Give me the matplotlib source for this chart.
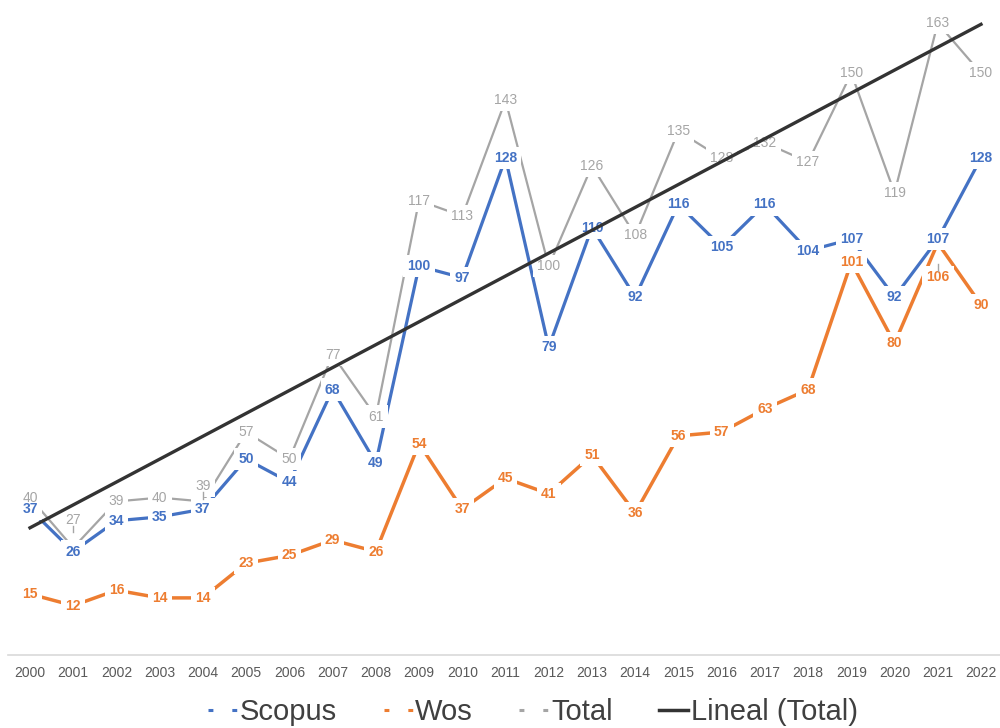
import matplotlib
matplotlib.use("Agg")
import matplotlib.pyplot as plt
from matplotlib.lines import Line2D
import numpy as np

# 資料
years = [str(y) for y in range(2000, 2023)]
scopus = [37, 26, 34, 35, 37, 50, 44, 68, 49, 100, 97, 128, 79, 110, 92, 116, 105, 116, 104, 107, 92, 107, 128]
wos = [15, 12, 16, 14, 14, 23, 25, 29, 26, 54, 37, 45, 41, 51, 36, 56, 57, 63, 68, 101, 80, 106, 90]
total = [40, 27, 39, 40, 39, 57, 50, 77, 61, 117, 113, 143, 100, 126, 108, 135, 128, 132, 127, 150, 119, 163, 150]

C_SCOPUS = "#4472c4"
C_WOS = "#ed7d31"
C_TOTAL = "#a5a5a5"
C_TREND = "#333333"

plt.rcParams["font.family"] = ["Liberation Sans", "DejaVu Sans"]

fig = plt.figure(figsize=(10, 7.28), dpi=100)
ax = fig.add_axes([0.0084, 0.1003, 0.9942, 0.8997])

x = np.arange(len(years))
ax.plot(x, total, color=C_TOTAL, lw=1.6, zorder=2)
ax.plot(x, scopus, color=C_SCOPUS, lw=2.3, zorder=2)
ax.plot(x, wos, color=C_WOS, lw=2.5, zorder=2)

# 線性趨勢線 (Total)
coef = np.polyfit(x, total, 1)
ax.plot(x[[0, -1]], np.polyval(coef, x[[0, -1]]), color=C_TREND, lw=2.4, zorder=5)

# 資料標籤（部分標籤被手動移動，附引導線）
label_shift = {("total", 1): 7.3, ("total", 4): 4.0, ("wos", 21): -8.8}


def add_labels(name, values, color, weight):
    for i, v in enumerate(values):
        dy = label_shift.get((name, i), 0)
        kw = dict(ha="center", va="center", fontsize=10, fontweight=weight)
        # 白底（切斷線條），文字另外畫在上層
        ax.text(i, v + dy, str(v), color="none", zorder=3,
                bbox=dict(boxstyle="square,pad=0.3", fc="white", ec="none"), **kw)
        ax.text(i, v + dy, str(v), color=color, zorder=4, **kw)
        if dy:
            sgn = np.sign(dy)
            ax.plot([i, i], [v + dy - sgn * 3.3, v + dy - sgn * 1.6],
                    color="#a5a5a5", lw=1, zorder=4)


add_labels("total", total, C_TOTAL, "normal")
add_labels("scopus", scopus, C_SCOPUS, "bold")
add_labels("wos", wos, C_WOS, "bold")

ax.set_xlim(-0.5, 22.5)
ax.set_ylim(-0.8, 169)
ax.set_xticks(x)
ax.set_xticklabels(years, fontsize=10, color="#595959")
ax.tick_params(axis="x", length=0, pad=8)
ax.set_yticks([])
for s in ["top", "left", "right"]:
    ax.spines[s].set_visible(False)
ax.spines["bottom"].set_color("#d9d9d9")
ax.spines["bottom"].set_linewidth(1.2)

dots = (0, (1.6, 6.2))
handles = [
    Line2D([], [], color=C_SCOPUS, lw=2.2, linestyle=dots),
    Line2D([], [], color=C_WOS, lw=2.2, linestyle=dots),
    Line2D([], [], color=C_TOTAL, lw=2.2, linestyle=dots),
    Line2D([], [], color=C_TREND, lw=2.5),
]
fig.legend(handles, ["Scopus", "Wos", "Total", "Lineal (Total)"],
           loc="center", bbox_to_anchor=(0.533, 0.022), ncol=4, frameon=False,
           fontsize=21, handlelength=1.0, handletextpad=0.08, columnspacing=1.6,
           labelcolor="#404040", borderpad=0)

plt.savefig("out.png", dpi=100)
